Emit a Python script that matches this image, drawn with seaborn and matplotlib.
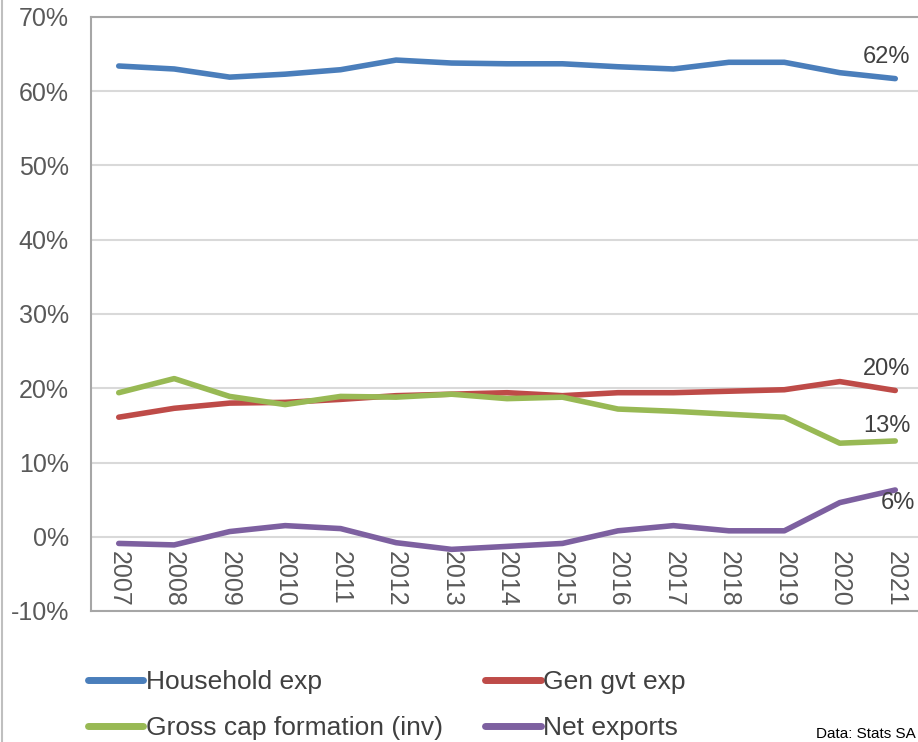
import pandas as pd
import matplotlib.pyplot as plt
import seaborn as sns
from matplotlib.lines import Line2D

# data (share of GDP, %)
years = list(range(2007, 2022))
household = [63.4, 63.0, 61.9, 62.3, 62.9, 64.2, 63.8, 63.7, 63.7, 63.3, 63.0, 63.9, 63.9, 62.5, 61.7]
gen_gvt = [16.1, 17.3, 18.0, 18.1, 18.5, 19.0, 19.2, 19.4, 19.0, 19.4, 19.4, 19.6, 19.8, 20.9, 19.7]
gross_cap = [19.4, 21.3, 18.9, 17.8, 18.9, 18.8, 19.2, 18.6, 18.8, 17.2, 16.9, 16.5, 16.1, 12.6, 12.9]
net_exports = [-0.9, -1.1, 0.7, 1.5, 1.1, -0.8, -1.7, -1.3, -0.9, 0.8, 1.5, 0.8, 0.8, 4.6, 6.3]

series_names = ["Household exp", "Gen gvt exp", "Gross cap formation (inv)", "Net exports"]
colors = ["#4a7ebb", "#be4b48", "#98b954", "#7d60a0"]

df = pd.DataFrame({
    "year": years * 4,
    "value": household + gen_gvt + gross_cap + net_exports,
    "series": sum([[n] * len(years) for n in series_names], []),
})

sns.set_style("white")
plt.rcParams["font.family"] = ["Liberation Sans", "DejaVu Sans"]

fig = plt.figure(figsize=(9.18, 7.42), dpi=100)
ax = fig.add_axes([91 / 918, 1 - 611 / 742, (923 - 91) / 918, (611 - 17) / 742])

sns.lineplot(data=df, x="year", y="value", hue="series", hue_order=series_names,
             palette=colors, linewidth=4, ax=ax, legend=False)

ax.set_xlim(2006.5, 2021.5)
ax.set_ylim(-10, 70)
ax.set_yticks(range(-10, 71, 10))
ax.set_yticklabels([f"{v}%" for v in range(-10, 71, 10)])
ax.set_xticks(years)
ax.set_xticklabels([str(y) for y in years])
ax.set_xlabel("")
ax.set_ylabel("")
ax.yaxis.grid(True, color="#d9d9d9", linewidth=1.5)
ax.set_axisbelow(True)

ax.tick_params(axis="y", length=0, pad=16, labelsize=18, labelcolor="#595959")
ax.tick_params(axis="x", length=0, pad=-43, labelsize=18, labelcolor="#595959",
               labelrotation=-90)
for lab in ax.get_xticklabels():
    lab.set_va("top")

for side in ["left", "top", "bottom"]:
    ax.spines[side].set_color("#a6a6a6")
    ax.spines[side].set_linewidth(1.5)
ax.spines["right"].set_visible(False)

# end labels
ax.text(2020.85, 64.6, "62%", ha="center", va="center", fontsize=17, color="#404040")
ax.text(2020.85, 22.6, "20%", ha="center", va="center", fontsize=17, color="#404040")
ax.text(2020.85, 14.9, "13%", ha="center", va="center", fontsize=17, color="#404040")
ax.text(2021.05, 4.6, "6%", ha="center", va="center", fontsize=17, color="#404040")

# legend filled column-wise, so order items to read row-wise like the original
order = [0, 2, 1, 3]
handles = [Line2D([], [], color=colors[i], linewidth=5, solid_capstyle="round") for i in order]
labels = [series_names[i] for i in order]
leg = fig.legend(handles, labels, loc="upper left", bbox_to_anchor=(88 / 918, 1 - 670 / 742),
                 ncol=2, frameon=False, fontsize=19, handlelength=2.1, handletextpad=0.1,
                 columnspacing=1.6, labelspacing=0.85, borderpad=0, borderaxespad=0)
for t in leg.get_texts():
    t.set_color("#404040")

fig.text(916 / 918, 1 / 742, "Data: Stats SA", fontsize=11, color="#000000",
         ha="right", va="bottom")

fig.add_artist(Line2D([2 / 918, 2 / 918], [0, 1], transform=fig.transFigure,
                      color="#bfbfbf", linewidth=1.5))

fig.savefig("out.png", dpi=100)
